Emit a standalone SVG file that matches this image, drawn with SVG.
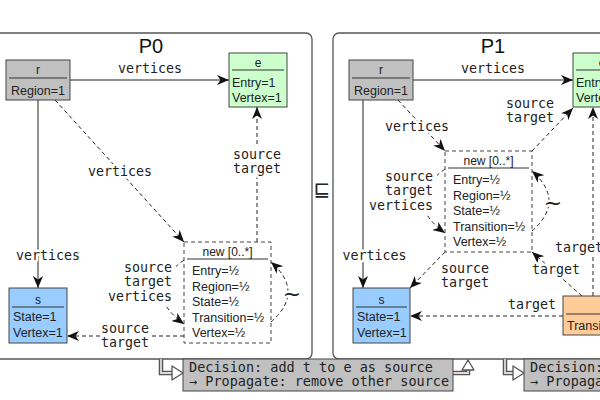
<svg xmlns="http://www.w3.org/2000/svg" width="600" height="400" viewBox="0 0 600 400">
<style>
.panel{fill:#fff;stroke:#555;stroke-width:1.3}
.node{stroke:#444;stroke-width:1}
.sep{stroke:#333;stroke-width:1}
.nt{font-family:"Liberation Sans",Arial,sans-serif;font-size:12.5px;fill:#222}
.nh{font-family:"Liberation Sans",Arial,sans-serif;font-size:12px;fill:#222;text-anchor:middle}
.title{font-family:"Liberation Sans",Arial,sans-serif;font-size:20px;fill:#111;text-anchor:middle}
.lb{font-family:"DejaVu Sans Mono",monospace;font-size:13.3px;fill:#222;text-anchor:middle;stroke:#fff;stroke-width:5;stroke-linejoin:round;paint-order:stroke}
.end{text-anchor:end}
.tilde{font-family:"DejaVu Sans",sans-serif;font-size:22px;fill:#222;text-anchor:middle;stroke:#fff;stroke-width:5;stroke-linejoin:round;paint-order:stroke}
.e{fill:none;stroke:#222;stroke-width:1}
.d{stroke-dasharray:4,3}
.dec{font-family:"DejaVu Sans Mono",monospace;font-size:13.5px;fill:#222}
.tube{fill:none;stroke:#555;stroke-width:4.5}
.tubein{fill:none;stroke:#ddd;stroke-width:1.8}
.head{fill:#fff;stroke:#555;stroke-width:1.3;stroke-linejoin:round}
.bg{fill:#fff}
</style>
<defs>
<marker id="arr" markerUnits="userSpaceOnUse" markerWidth="13" markerHeight="10" refX="12" refY="5" orient="auto">
<path d="M0,0 L12,5 L0,10 L3.5,5 z" fill="#111"/>
</marker>
</defs>
<rect width="600" height="400" fill="#fff"/>
<g id="panel-P0">
<rect class="panel" x="-10" y="33" width="322" height="326" rx="6"/>
<text class="title" x="151" y="53">P0</text>
</g>
<g id="panel-P1">
<rect class="panel" x="333" y="33" width="300" height="326" rx="6"/>
<text class="title" x="493" y="53">P1</text>
</g>
<text id="refines" x="322" y="196" font-family="DejaVu Sans,sans-serif" font-size="20" text-anchor="middle" fill="#222">⊑</text>
<g id="connectors">
<path class="e" d="M70,80 H229" marker-end="url(#arr)"/>
<path class="e" d="M38,100 V288" marker-end="url(#arr)"/>
<path class="e d" d="M55,100 L184,242" marker-end="url(#arr)"/>
<path class="e d" d="M257,242 V107" marker-end="url(#arr)"/>
<path class="e d" d="M184,336 H67" marker-end="url(#arr)"/>
<path class="e d" d="M184,260 Q140,292 184,324" marker-end="url(#arr)"/>
<path class="e d" d="M271,322 Q305,292 271,262" marker-end="url(#arr)"/>
<path class="e" d="M413,80 H573" marker-end="url(#arr)"/>
<path class="e" d="M363,100 V288" marker-end="url(#arr)"/>
<path class="e d" d="M398,100 L445,151" marker-end="url(#arr)"/>
<path class="e d" d="M532,151 L573,108" marker-end="url(#arr)"/>
<path class="e d" d="M445,252 L410,288" marker-end="url(#arr)"/>
<path class="e d" d="M445,169 Q401,201 445,233" marker-end="url(#arr)"/>
<path class="e d" d="M532,231 Q566,201 532,171" marker-end="url(#arr)"/>
<path class="e d" d="M582,296 L532,252" marker-end="url(#arr)"/>
<path class="e d" d="M593,296 V107" marker-end="url(#arr)"/>
<path class="e d" d="M563,316 H410" marker-end="url(#arr)"/>
<path class="tube" d="M161,359 V373 H173"/>
<path class="tubein" d="M161,359 V373 H173"/>
<path class="head" d="M172,366 L183,373 L172,380 z"/>
<path class="tube" d="M453,373 H468 V370"/>
<path class="tubein" d="M453,373 H468 V370"/>
<path class="head" d="M462,370 L468,360 L474,370 z"/>
<path class="tube" d="M505,359 V373 H514"/>
<path class="tubein" d="M505,359 V373 H514"/>
<path class="head" d="M513,366 L524,373 L513,380 z"/>
</g>
<g id="edge-labels">
<text class="lb" x="150" y="73">vertices</text>
<text class="lb" x="120" y="176">vertices</text>
<rect class="bg" x="233" y="147" width="48" height="30"/>
<text class="lb" x="257" y="159">source</text>
<text class="lb" x="257" y="173">target</text>
<text class="lb" x="48" y="260">vertices</text>
<rect class="bg" x="124" y="262" width="52" height="43"/>
<text class="lb end" x="172" y="272">source</text>
<text class="lb end" x="172" y="286">target</text>
<text class="lb end" x="172" y="301">vertices</text>
<rect class="bg" x="100" y="322" width="52" height="28"/>
<text class="lb" x="125" y="333">source</text>
<text class="lb" x="125" y="347">target</text>
<text class="tilde" x="292" y="301">~</text>
<text class="lb" x="493" y="73">vertices</text>
<text class="lb" x="417" y="131">vertices</text>
<text class="lb" x="530" y="108">source</text>
<text class="lb" x="530" y="122">target</text>
<text class="lb" x="374.5" y="260">vertices</text>
<rect class="bg" x="385" y="171" width="52" height="43"/>
<text class="lb end" x="433" y="181">source</text>
<text class="lb end" x="433" y="195">target</text>
<text class="lb end" x="433" y="210">vertices</text>
<text class="lb" x="465" y="273">source</text>
<text class="lb" x="465" y="287">target</text>
<text class="tilde" x="553" y="210">~</text>
<text class="lb" x="556" y="274">target</text>
<text class="lb" x="579" y="252">target</text>
<text class="lb" x="532" y="309">target</text>
</g>
<g id="P0-r">
<rect class="node" x="6" y="60" width="64" height="40" fill="#c0c0c0"/>
<text class="nh" x="38" y="74">r</text>
<line class="sep" x1="9" y1="78" x2="67" y2="78"/>
<text class="nt" x="38" y="95" text-anchor="middle">Region=1</text>
</g>
<g id="P0-e">
<rect class="node" x="229" y="53" width="58" height="54" fill="#ccffcc"/>
<text class="nh" x="258" y="67">e</text>
<line class="sep" x1="232" y1="70" x2="284" y2="70"/>
<text class="nt" x="232" y="87">Entry=1</text>
<text class="nt" x="232" y="102">Vertex=1</text>
</g>
<g id="P0-s">
<rect class="node" x="9" y="288" width="58" height="55" fill="#99ccff"/>
<text class="nh" x="38" y="304">s</text>
<line class="sep" x1="12" y1="307" x2="64" y2="307"/>
<text class="nt" x="13" y="321">State=1</text>
<text class="nt" x="13" y="337">Vertex=1</text>
</g>
<g id="P0-new">
<rect class="node d" x="184" y="242" width="87" height="101" fill="#fff" stroke-dasharray="4,3"/>
<text class="nh" x="227.5" y="256">new [0..*]</text>
<line class="sep" x1="187" y1="259" x2="268" y2="259"/>
<text class="nt" x="192" y="275">Entry=½</text>
<text class="nt" x="192" y="291">Region=½</text>
<text class="nt" x="192" y="306">State=½</text>
<text class="nt" x="192" y="322">Transition=½</text>
<text class="nt" x="192" y="337">Vertex=½</text>
</g>
<g id="P1-r">
<rect class="node" x="349" y="60" width="64" height="40" fill="#c0c0c0"/>
<text class="nh" x="381" y="74">r</text>
<line class="sep" x1="352" y1="78" x2="410" y2="78"/>
<text class="nt" x="381" y="95" text-anchor="middle">Region=1</text>
</g>
<g id="P1-e">
<rect class="node" x="573" y="53" width="58" height="54" fill="#ccffcc"/>
<text class="nh" x="602" y="67">e</text>
<line class="sep" x1="576" y1="70" x2="628" y2="70"/>
<text class="nt" x="576" y="87">Entry=1</text>
<text class="nt" x="576" y="102">Vertex=1</text>
</g>
<g id="P1-s">
<rect class="node" x="353" y="288" width="57" height="55" fill="#99ccff"/>
<text class="nh" x="381.5" y="304">s</text>
<line class="sep" x1="356" y1="307" x2="407" y2="307"/>
<text class="nt" x="357" y="321">State=1</text>
<text class="nt" x="357" y="337">Vertex=1</text>
</g>
<g id="P1-new">
<rect class="node" x="445" y="151" width="87" height="101" fill="#fff" stroke-dasharray="4,3"/>
<text class="nh" x="488.5" y="165">new [0..*]</text>
<line class="sep" x1="448" y1="168" x2="529" y2="168"/>
<text class="nt" x="453" y="184">Entry=½</text>
<text class="nt" x="453" y="200">Region=½</text>
<text class="nt" x="453" y="215">State=½</text>
<text class="nt" x="453" y="231">Transition=½</text>
<text class="nt" x="453" y="246">Vertex=½</text>
</g>
<g id="P1-t">
<rect class="node" x="563" y="296" width="87" height="39" fill="#ffcc99"/>
<line class="sep" x1="566" y1="314" x2="647" y2="314"/>
<text class="nt" x="567" y="330">Transition=1</text>
</g>
<g id="decision-1">
<rect class="node" x="183" y="359" width="270" height="32" fill="#c0c0c0"/>
<text class="dec" x="189" y="372">Decision: add t to e as source</text>
<text class="dec" x="189" y="386">→ Propagate: remove other source</text>
</g>
<g id="decision-2">
<rect class="node" x="524" y="359" width="200" height="32" fill="#c0c0c0"/>
<text class="dec" x="530" y="372">Decision:</text>
<text class="dec" x="530" y="386">→ Propagate:</text>
</g>
</svg>
